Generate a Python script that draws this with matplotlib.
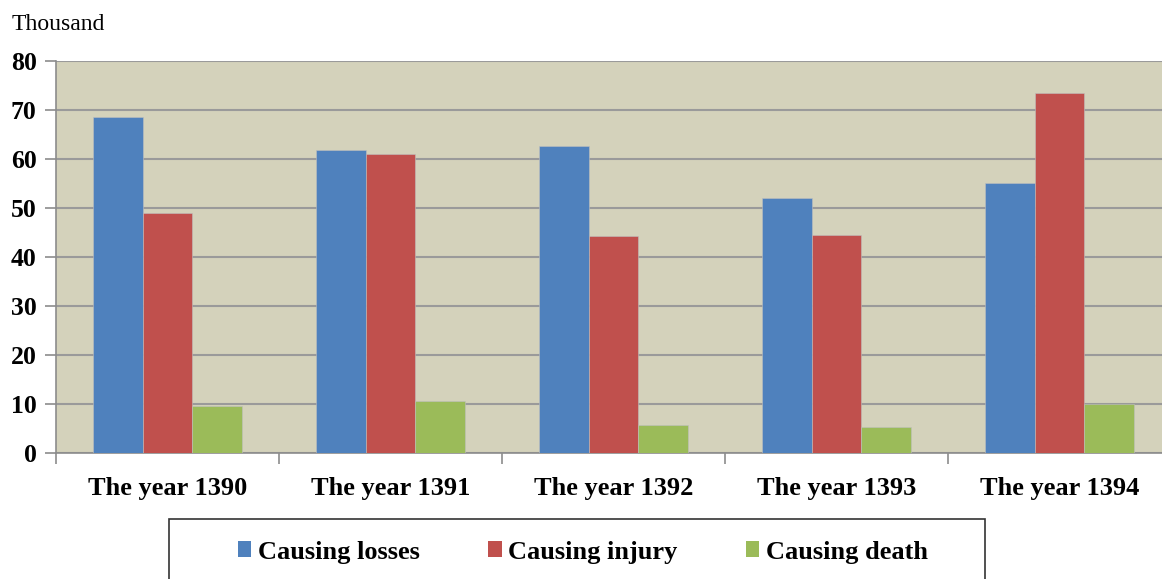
import matplotlib.pyplot as plt
import numpy as np
from matplotlib.patches import Rectangle, Patch

# Data (thousands)
years = ["The year 1390", "The year 1391", "The year 1392", "The year 1393", "The year 1394"]
losses = [68.6, 61.9, 62.6, 52.1, 55.2]
injury = [48.9, 61.0, 44.3, 44.5, 73.4]
death = [9.6, 10.6, 5.7, 5.3, 10.0]

series_names = ["Causing losses", "Causing injury", "Causing death"]
colors = ["#4F81BD", "#C0504D", "#9BBB59"]

plt.rcParams["font.family"] = ["Liberation Serif", "DejaVu Serif"]

W, H = 1162, 579
fig = plt.figure(figsize=(W / 100, H / 100), dpi=100)
# plot area runs slightly past the right edge of the picture
ax = fig.add_axes([56 / W, 1 - 453 / H, 1115 / W, (453 - 61) / H])

x = np.arange(len(years))
bw = 0.222
for i, (vals, c) in enumerate(zip([losses, injury, death], colors)):
    ax.bar(x + (i - 1) * bw, vals, bw, color=c, edgecolor="#BFBFBF", linewidth=0.4, zorder=3)

ax.set_facecolor("#D4D2BB")
ax.set_xlim(-0.5, len(years) - 0.5)
ax.set_ylim(0, 80)
ax.set_yticks(range(0, 81, 10))
ax.yaxis.grid(True, color="#9A9A9A", linewidth=1.5, zorder=1)
ax.set_axisbelow(True)

ax.set_xticks(x)
ax.set_xticklabels(years, fontsize=19, fontweight="bold")
ax.set_xticks(np.arange(-0.5, len(years)), minor=True)
ax.tick_params(axis="x", which="major", length=0, pad=17)
ax.tick_params(axis="x", which="minor", length=8, color="#8C8C8C", width=1.2)
ax.tick_params(axis="y", length=8, color="#8C8C8C", width=1.2, labelsize=18.5, pad=6)
for lab in ax.get_yticklabels():
    lab.set_fontweight("bold")

for s in ["top", "right"]:
    ax.spines[s].set_visible(False)
ax.spines["left"].set_color("#8C8C8C")
ax.spines["bottom"].set_color("#8C8C8C")
ax.spines["left"].set_linewidth(1.2)
ax.spines["bottom"].set_linewidth(1.2)

fig.text(12 / W, 1 - 25 / H, "Thousand", fontsize=17, va="center", ha="left")

# Legend box (bottom edge falls outside the picture)
fig.patches.append(Rectangle((169 / W, 1 - 600 / H), (985 - 169) / W, (600 - 519) / H,
                             transform=fig.transFigure, fill=False, edgecolor="#333333",
                             linewidth=1.2, clip_on=False))
handles = [Patch(facecolor=c, edgecolor="none") for c in colors]
fig.legend(handles, series_names, loc="center", bbox_to_anchor=(583 / W, 1 - 552 / H),
           ncol=3, frameon=False, prop={"weight": "bold", "size": 19},
           handlelength=0.5, handleheight=0.55, handletextpad=0.25, columnspacing=2.6)

fig.savefig("out.png", dpi=100)
